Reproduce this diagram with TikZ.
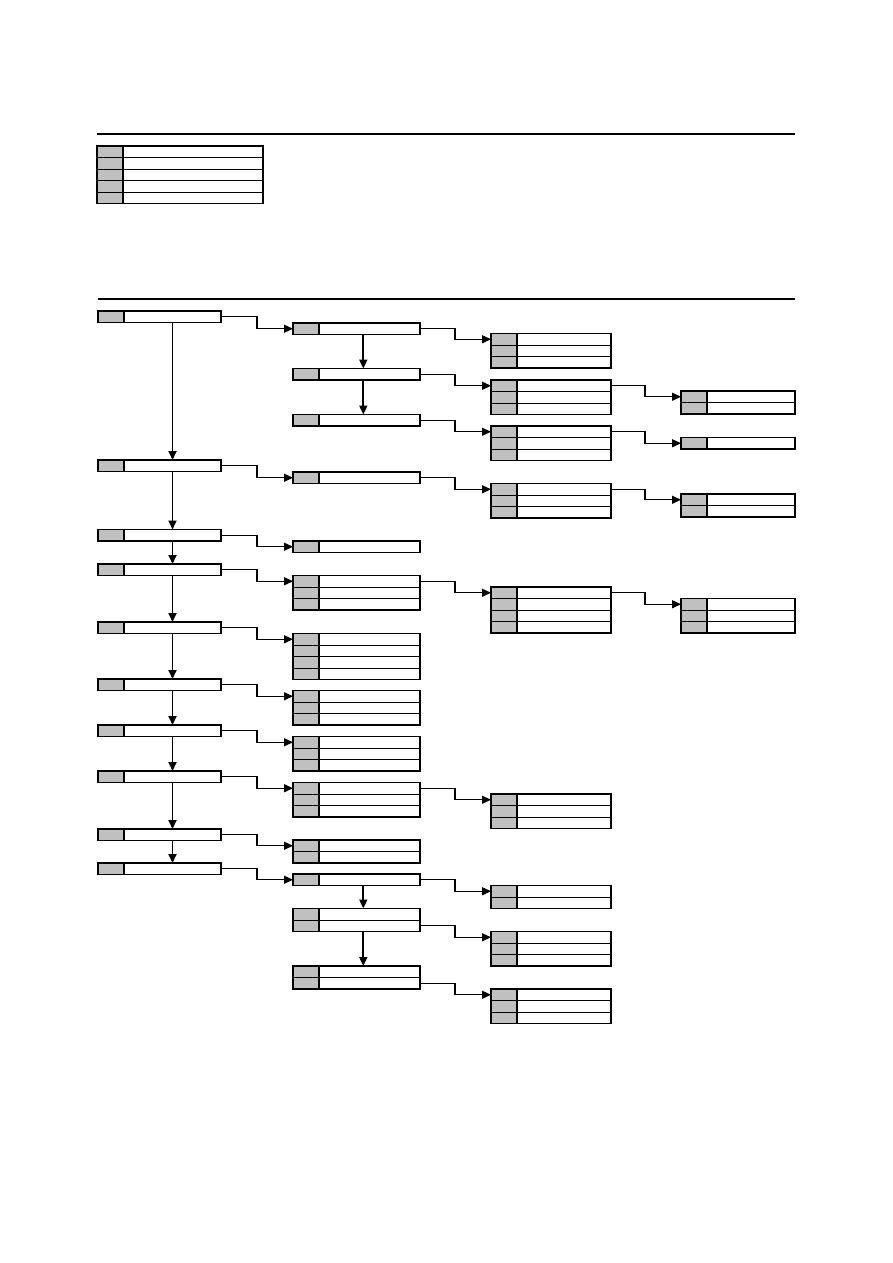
\documentclass[tikz,border=0pt]{standalone}
\usetikzlibrary{arrows.meta}
\definecolor{boxgray}{HTML}{C0C0C0}
\tikzset{
  rule/.style={line width=2.8pt},
  border/.style={line width=1.9pt},
  rowline/.style={line width=1pt},
  conn/.style={line width=1.4pt,-{Triangle[length=9pt,width=8pt]}},
  down/.style={line width=1.7pt,-{Triangle[length=9pt,width=8pt]}}
}
\newcommand\tb[5]{%
  \node[inner sep=0pt,outer sep=0pt,minimum width=#4pt,minimum height=#5*11.5pt,anchor=north west] (#1) at (#2,#3) {};
  \fill[boxgray] (#1.north west) rectangle ([xshift=26pt]#1.south west);
  \foreach \i in {1,...,#5} {%
    \coordinate (#1-w\i) at ([yshift={-(\i-0.5)*11.5pt}]#1.north west);
    \coordinate (#1-e\i) at ([yshift={-(\i-0.5)*11.5pt}]#1.north east);
    \ifnum\i>1
      \draw[rowline] ([yshift={-(\i-1)*11.5pt}]#1.north west) -- ([yshift={-(\i-1)*11.5pt}]#1.north east);
    \fi
  }
  \draw[line width=1.4pt] ([xshift=26pt]#1.north west) -- ([xshift=26pt]#1.south west);
  \draw[border] (#1.north west) rectangle (#1.south east);
}
\begin{document}
\begin{tikzpicture}[x=1pt,y=-1pt]
\useasboundingbox (0,0) rectangle (893,1263);
% rules
\coordinate (r1a) at (97,134); \coordinate (r1b) at (795,134);
\coordinate (r2a) at (98,299); \coordinate (r2b) at (795,299);
\draw[rule] (r1a) -- (r1b);
\draw[rule] (r2a) -- (r2b);
% legend
\tb{leg}{97}{146}{166}{5}
% main column
\tb{m1}{98}{311}{123}{1}
\tb{m2}{98}{460}{123}{1}
\tb{m3}{98}{529.5}{123}{1}
\tb{m4}{98}{564}{123}{1}
\tb{m5}{98}{622}{123}{1}
\tb{m6}{98}{679}{123}{1}
\tb{m7}{98}{725}{123}{1}
\tb{m8}{98}{771}{123}{1}
\tb{m9}{98}{829}{123}{1}
\tb{m10}{98}{863}{123}{1}
% level 2
\tb{b1}{293}{323}{127}{1}
\tb{b2}{293}{368.5}{127}{1}
\tb{b3}{293}{414.5}{127}{1}
\tb{b4}{293}{472}{127}{1}
\tb{b5}{293}{541}{127}{1}
\tb{b6}{293}{575.5}{127}{3}
\tb{b7}{293}{633.5}{127}{4}
\tb{b8}{293}{690.5}{127}{3}
\tb{b9}{293}{736.5}{127}{3}
\tb{b10}{293}{782.5}{127}{3}
\tb{b11}{293}{840}{127}{2}
\tb{b12}{293}{874}{127}{1}
\tb{b13}{293}{908.5}{127}{2}
\tb{b14}{293}{966}{127}{2}
% level 3
\tb{c1}{491}{333.5}{120}{3}
\tb{c2}{491}{380}{120}{3}
\tb{c3}{491}{426}{120}{3}
\tb{c4}{491}{483.5}{120}{3}
\tb{c5}{491}{587}{120}{4}
\tb{c6}{491}{794}{120}{3}
\tb{c7}{491}{885.5}{120}{2}
\tb{c8}{491}{931.5}{120}{3}
\tb{c9}{491}{989}{120}{3}
% level 4
\tb{d1}{681}{391}{114}{2}
\tb{d2}{681}{437.5}{114}{1}
\tb{d3}{681}{494}{114}{2}
\tb{d4}{681}{598.5}{114}{3}
% vertical arrow axes
\coordinate (vx) at (172.5,0);
\coordinate (vy) at (363.3,0);
\draw[down] (m1.south -| vx) -- (m2.north -| vx);
\draw[down] (m2.south -| vx) -- (m3.north -| vx);
\draw[down] (m3.south -| vx) -- (m4.north -| vx);
\draw[down] (m4.south -| vx) -- (m5.north -| vx);
\draw[down] (m5.south -| vx) -- (m6.north -| vx);
\draw[down] (m6.south -| vx) -- (m7.north -| vx);
\draw[down] (m7.south -| vx) -- (m8.north -| vx);
\draw[down] (m8.south -| vx) -- (m9.north -| vx);
\draw[down] (m9.south -| vx) -- (m10.north -| vx);
\draw[down] (b1.south -| vy) -- (b2.north -| vy);
\draw[down] (b2.south -| vy) -- (b3.north -| vy);
\draw[down] (b12.south -| vy) -- (b13.north -| vy);
\draw[down] (b13.south -| vy) -- (b14.north -| vy);
% main -> level 2
\draw[conn] (m1-e1) -- ++(36,0) |- (b1-w1);
\draw[conn] (m2-e1) -- ++(36,0) |- (b4-w1);
\draw[conn] (m3-e1) -- ++(36,0) |- (b5-w1);
\draw[conn] (m4-e1) -- ++(36,0) |- (b6-w1);
\draw[conn] (m5-e1) -- ++(36,0) |- (b7-w1);
\draw[conn] (m6-e1) -- ++(36,0) |- (b8-w1);
\draw[conn] (m7-e1) -- ++(36,0) |- (b9-w1);
\draw[conn] (m8-e1) -- ++(36,0) |- (b10-w1);
\draw[conn] (m9-e1) -- ++(36,0) |- (b11-w1);
\draw[conn] (m10-e1) -- ++(36,0) |- (b12-w1);
% level 2 -> level 3
\draw[conn] (b1-e1) -- ++(35,0) |- (c1-w1);
\draw[conn] (b2-e1) -- ++(35,0) |- (c2-w1);
\draw[conn] (b3-e1) -- ++(35,0) |- (c3-w1);
\draw[conn] (b4-e1) -- ++(35,0) |- (c4-w1);
\draw[conn] (b6-e1) -- ++(35,0) |- (c5-w1);
\draw[conn] (b10-e1) -- ++(35,0) |- (c6-w1);
\draw[conn] (b12-e1) -- ++(35,0) |- (c7-w1);
\draw[conn] (b13-e2) -- ++(35,0) |- (c8-w1);
\draw[conn] (b14-e2) -- ++(35,0) |- (c9-w1);
% level 3 -> level 4
\draw[conn] (c2-e1) -- ++(34,0) |- (d1-w1);
\draw[conn] (c3-e1) -- ++(34,0) |- (d2-w1);
\draw[conn] (c4-e1) -- ++(34,0) |- (d3-w1);
\draw[conn] (c5-e1) -- ++(34,0) |- (d4-w1);
\end{tikzpicture}
\end{document}
